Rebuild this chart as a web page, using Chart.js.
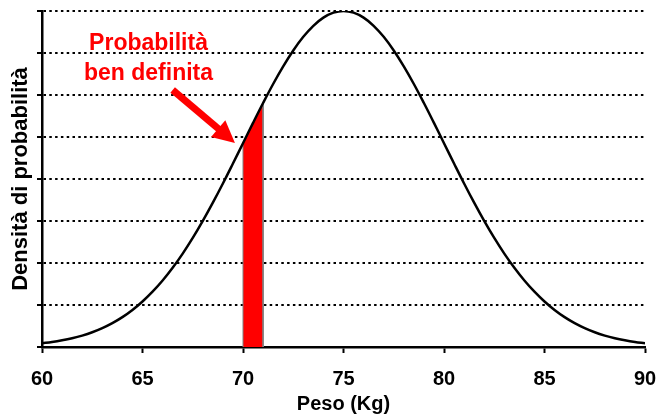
<!DOCTYPE html>
<html>
<head>
<meta charset="utf-8">
<script src="https://cdn.jsdelivr.net/npm/chart.js@4"></script>
<style>
  body { margin: 0; background: #fff; }
</style>
</head>
<body>
<canvas id="grafico" width="659" height="417"></canvas>
<script>
// curva di densità (scala relativa, picco = 8 divisioni)
const pesi = [60, 60.5, 61, 61.5, 62, 62.5, 63, 63.5, 64, 64.5, 65, 65.5, 66, 66.5, 67, 67.5,
  68, 68.5, 69, 69.5, 70, 70.5, 71, 71.5, 72, 72.5, 73, 73.5, 74, 74.5, 75,
  75.5, 76, 76.5, 77, 77.5, 78, 78.5, 79, 79.5, 80, 80.5, 81, 81.5, 82, 82.5,
  83, 83.5, 84, 84.5, 85, 85.5, 86, 86.5, 87, 87.5, 88, 88.5, 89, 89.5, 90];
const densita = [0.089, 0.119, 0.159, 0.209, 0.272, 0.351, 0.449, 0.568, 0.711, 0.882, 1.083, 1.316, 1.583, 1.886, 2.224, 2.597,
  3.003, 3.437, 3.894, 4.369, 4.852, 5.336, 5.809, 6.262, 6.682, 7.060, 7.385, 7.648, 7.842, 7.960, 8.0,
  7.960, 7.842, 7.648, 7.385, 7.060, 6.682, 6.262, 5.809, 5.336, 4.852, 4.369, 3.894, 3.437, 3.003, 2.597,
  2.224, 1.886, 1.583, 1.316, 1.083, 0.882, 0.711, 0.568, 0.449, 0.351, 0.272, 0.209, 0.159, 0.119, 0.089];

// intervallo evidenziato 70-71 kg
const areaPesi = [70, 70, 70.5, 71, 71];
const areaDensita = [0, 4.852, 5.336, 5.809, 0];

const etichetta = ['Probabilità', 'ben definita'];
const etichettaPos = { x: 65.3, y: 7.07 };
const freccia = { da: { x: 66.5, y: 6.12 }, a: { x: 69.6, y: 4.86 } };

const annotazione = {
  id: 'annotazione',
  afterDraw(chart) {
    const { ctx, scales: { x, y } } = chart;
    ctx.save();
    ctx.fillStyle = '#ff0000';
    ctx.font = 'bold 23px "Liberation Sans", Arial, sans-serif';
    ctx.textAlign = 'center';
    ctx.textBaseline = 'alphabetic';
    const cx = x.getPixelForValue(etichettaPos.x);
    const cy = y.getPixelForValue(etichettaPos.y);
    ctx.fillText(etichetta[0], cx, cy);
    ctx.fillText(etichetta[1], cx, cy + 30);

    const x1 = x.getPixelForValue(freccia.da.x), y1 = y.getPixelForValue(freccia.da.y);
    const x2 = x.getPixelForValue(freccia.a.x), y2 = y.getPixelForValue(freccia.a.y);
    const ang = Math.atan2(y2 - y1, x2 - x1);
    const testa = 22, largh = 11;
    const bx = x2 - testa * Math.cos(ang), by = y2 - testa * Math.sin(ang);
    ctx.strokeStyle = '#ff0000';
    ctx.lineWidth = 7;
    ctx.beginPath();
    ctx.moveTo(x1, y1);
    ctx.lineTo(bx + 2 * Math.cos(ang), by + 2 * Math.sin(ang));
    ctx.stroke();
    ctx.beginPath();
    ctx.moveTo(x2, y2);
    ctx.lineTo(bx + largh * Math.sin(ang), by - largh * Math.cos(ang));
    ctx.lineTo(bx - largh * Math.sin(ang), by + largh * Math.cos(ang));
    ctx.closePath();
    ctx.fill();
    ctx.restore();
  }
};

new Chart(document.getElementById('grafico'), {
  type: 'line',
  data: {
    datasets: [{
      data: pesi.map((p, i) => ({ x: p, y: densita[i] })),
      borderColor: '#000',
      borderWidth: 2.5,
      pointRadius: 0,
      tension: 0.4,
      fill: false
    }, {
      data: areaPesi.map((p, i) => ({ x: p, y: areaDensita[i] })),
      borderColor: '#808080',
      borderWidth: 1,
      backgroundColor: '#ff0000',
      pointRadius: 0,
      tension: 0,
      fill: 'origin'
    }]
  },
  options: {
    responsive: false,
    animation: false,
    layout: { padding: { top: 11, right: 14, bottom: 0, left: 0 } },
    plugins: { legend: { display: false }, tooltip: { enabled: false } },
    scales: {
      x: {
        type: 'linear',
        min: 60,
        max: 90,
        afterFit: s => { s.height = 70; s.paddingRight = 0; s.paddingLeft = 0; },
        ticks: { stepSize: 5, color: '#000', font: { family: '"Liberation Sans", Arial', weight: 'bold', size: 20 }, padding: 14, maxRotation: 0 },
        grid: { drawOnChartArea: false, tickLength: 6, tickColor: '#000', tickWidth: 2 },
        border: { color: '#000', width: 2.5 },
        title: { display: true, text: 'Peso (Kg)', color: '#000', font: { family: '"Liberation Sans", Arial', weight: 'bold', size: 20 }, padding: { top: 0, bottom: 1 } }
      },
      y: {
        min: 0,
        max: 8,
        afterFit: s => { s.width = 42; },
        ticks: { stepSize: 1, display: false },
        grid: { color: '#000', lineWidth: 2, tickLength: 5, tickColor: '#000', tickWidth: 2, tickBorderDash: [] },
        border: { color: '#000', width: 2.5, dash: [2.5, 3.3] },
        title: { display: true, text: 'Densità di probabilità', color: '#000', font: { family: '"Liberation Sans", Arial', weight: 'bold', size: 22 }, padding: { top: 8, bottom: 0 } }
      }
    }
  },
  plugins: [annotazione]
});
</script>
</body>
</html>
